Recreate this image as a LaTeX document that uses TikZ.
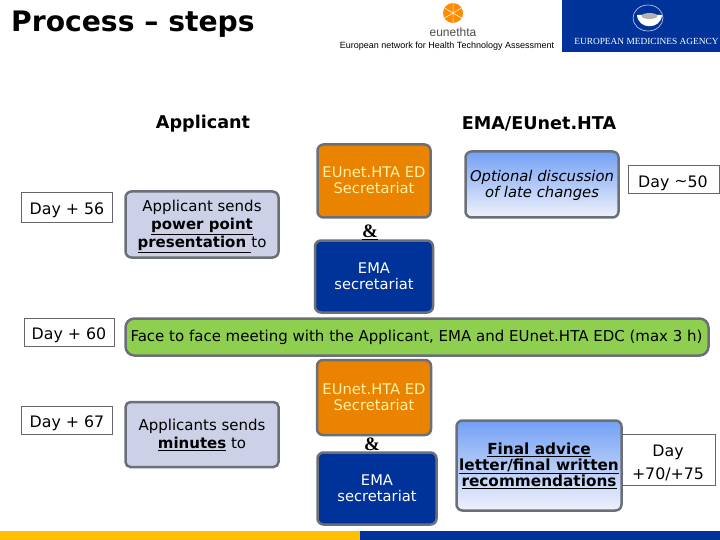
\documentclass[tikz,border=0pt]{standalone}
\usepackage{fontspec}
\setmainfont{DejaVu Sans}
\newfontfamily\serifbold{Liberation Serif}
\newfontfamily\logosans{Liberation Sans}
\usetikzlibrary{shapes.geometric}
\definecolor{edge}{HTML}{6B6F78}
\definecolor{lilac}{HTML}{CDD1E7}
\definecolor{orangebox}{HTML}{E98300}
\definecolor{navy}{HTML}{003399}
\definecolor{greenbox}{HTML}{8FCF4F}
\definecolor{skyA}{HTML}{73A0F5}
\definecolor{skyB}{HTML}{F0F2FA}
\definecolor{barY}{HTML}{FFC000}
\definecolor{cream}{HTML}{FFF2A8}
\newcommand{\ul}[1]{\underline{#1}}
\tikzset{
  x=1pt,y=-1pt,
  txt/.style={inner sep=0pt,align=center,font=\fontsize{14.7}{16}\selectfont},
  daybox/.style={draw=gray!80!black,line width=0.7pt,fill=white,inner sep=0pt},
  daytxt/.style={inner sep=0pt,align=center,font=\fontsize{15.8}{22.5}\selectfont},
  flow/.style={draw=edge,line width=2.5pt,rounded corners=6pt,inner sep=0pt},
  heading/.style={inner sep=0pt,font=\bfseries\fontsize{17.6}{20}\selectfont},
}
\begin{document}
\begin{tikzpicture}
\useasboundingbox (0,0) rectangle (720,540);
\fill[white] (0,0) rectangle (720,540);
% title and logos
\node[inner sep=0pt,anchor=west,font=\bfseries\fontsize{28.2}{30}\selectfont] (title) at (11,24) {Process – steps};
\fill[orange!90!yellow] (453,13) circle (10);
\draw[white,line width=0.5pt] (453,3)--(453,23) (444.5,8)--(461.5,18) (444.5,18)--(461.5,8);
\node[inner sep=0pt,text=black!70,font=\logosans\fontsize{12}{12}\selectfont] (eunet) at (453,32) {eunethta};
\node[inner sep=0pt,font=\logosans\fontsize{9}{10}\selectfont] (network) at (447,46) {European network for Health Technology Assessment};
\fill[navy] (562,0) rectangle (720,52);
\draw[white!80!navy,line width=0.6pt] (648,18) ellipse (15 and 13);
\fill[white] (637,15) .. controls (638,30) and (661,30) .. (662,15) -- cycle;
\fill[gray!60] (649.5,16) ellipse (8 and 3);
\node[inner sep=0pt,text=white,font=\serifbold\fontsize{9.35}{11}\selectfont] (ema) at (646.5,41) {EUROPEAN MEDICINES AGENCY};
% headings
\node[heading] (applicant) at (203,123.5) {Applicant};
\node[heading] (emaeu) at (539,123.5) {EMA/EUnet.HTA};
% day boxes
\node[daybox,minimum width=91pt,minimum height=30pt] (d56) at (67,207.5) {};
\node[daytxt] (d56t) at (67,210) {Day + 56};
\node[daybox,minimum width=90pt,minimum height=28pt] (d60) at (69,332.5) {};
\node[daytxt] (d60t) at (69,335.5) {Day + 60};
\node[daybox,minimum width=91pt,minimum height=28pt] (d67) at (67,420.5) {};
\node[daytxt] (d67t) at (67,423.5) {Day + 67};
\node[daybox,minimum width=91pt,minimum height=28pt] (d50) at (673.5,179.5) {};
\node[daytxt] (d50t) at (673,183) {Day \raisebox{1pt}{\textasciitilde}50};
\node[daybox,minimum width=94pt,minimum height=51pt] (d70) at (668,459.5) {};
\node[daytxt] (d70t) at (668,463) {Day\\+70/+75};
% applicant boxes
\node[flow,fill=lilac,minimum width=153pt,minimum height=66pt] (sends) at (202,224.5) {};
\node[txt,font=\fontsize{15}{18}\selectfont] (sendst) at (202,226.5)
  {Applicant sends\\\textbf{\ul{power point}}\\\textbf{\ul{presentation }}to};
\node[flow,fill=lilac,minimum width=153pt,minimum height=65pt,rounded corners=5pt] (minutes) at (202,434.5) {};
\node[txt,font=\fontsize{15}{17.5}\selectfont] (minutest) at (202,435)
  {Applicants sends\\\textbf{\ul{minutes}} to};
% orange
\node[flow,fill=orangebox,minimum width=113pt,minimum height=73pt] (oa) at (374,181) {};
\node[txt,text=cream] (oat) at (374,180.5) {EUnet.HTA ED\\Secretariat};
\node[flow,fill=orangebox,minimum width=114pt,minimum height=75pt] (ob) at (374,397.5) {};
\node[txt,text=cream] (obt) at (374,397) {EUnet.HTA ED\\Secretariat};
% navy
\node[flow,fill=navy,minimum width=118pt,minimum height=72pt] (ea) at (374,276.5) {};
\node[txt,text=white] (eat) at (374,276.5) {EMA\\secretariat};
\node[flow,fill=navy,minimum width=119pt,minimum height=72pt] (eb) at (377,488.5) {};
\node[txt,text=white] (ebt) at (377,488.5) {EMA\\secretariat};
% ampersands
\node[inner sep=0pt,font=\serifbold\bfseries\fontsize{19}{20}\selectfont] (ampa) at (370,232) {\ul{\&}};
\node[inner sep=0pt,font=\serifbold\bfseries\fontsize{19}{20}\selectfont] (ampb) at (372,444) {\&};
% green
\node[flow,fill=greenbox,minimum width=583pt,minimum height=37pt,rounded corners=9pt] (meet) at (417,337) {};
\node[txt,font=\fontsize{15}{16}\selectfont] (meett) at (416.5,337.5) {Face to face meeting with the Applicant, EMA and EUnet.HTA EDC (max 3 h)};
% gradient boxes
\node[flow,top color=skyA,middle color=skyA!35!skyB,bottom color=skyB,minimum width=153pt,minimum height=66pt] (opt) at (542,184.5) {};
\node[txt,font=\fontsize{14.8}{16}\selectfont] (optt) at (542,185.5) {\itshape Optional discussion\\\itshape of late changes};
\node[flow,top color=skyA,middle color=skyA!35!skyB,bottom color=skyB,minimum width=165pt,minimum height=90pt] (final) at (539,465.5) {};
\node[txt,font=\bfseries\fontsize{15.3}{16}\selectfont] (finalt) at (539,466) {\ul{Final advice}\\\ul{letter/final written}\\\ul{recommendations}};
% bottom bar
\fill[barY] (0,530.5) rectangle (360,540);
\fill[navy] (360,530.5) rectangle (720,540);
\end{tikzpicture}
\end{document}
